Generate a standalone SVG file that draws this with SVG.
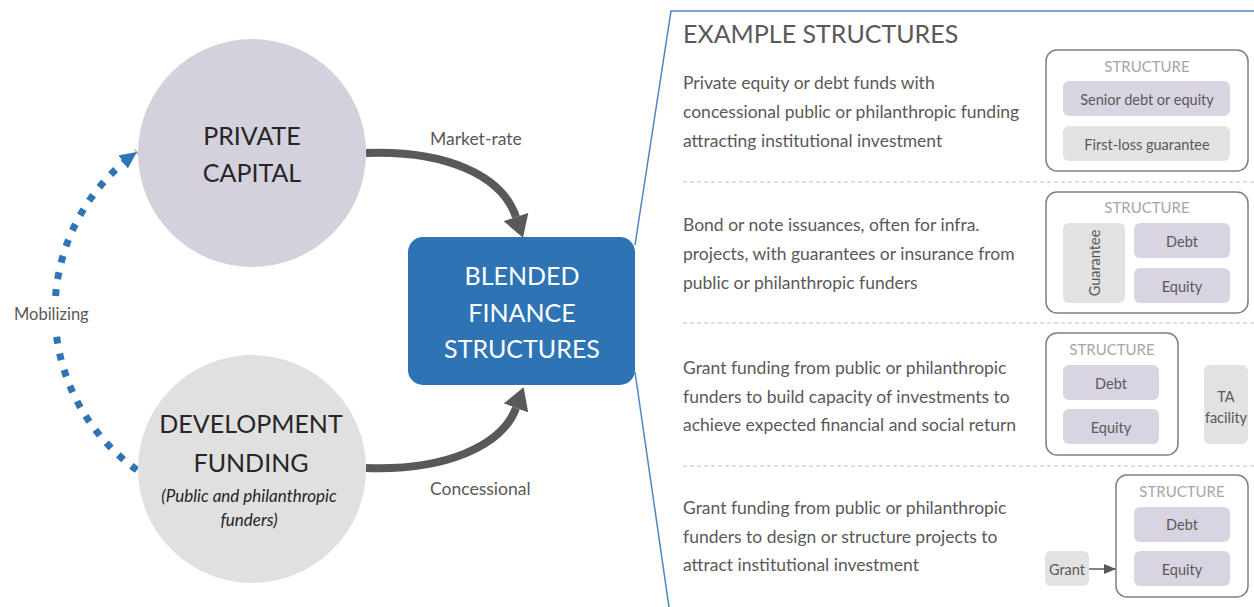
<svg xmlns="http://www.w3.org/2000/svg" width="1254" height="607" viewBox="0 0 1254 607">
<style>
text{font-family:Lato,"Liberation Sans",sans-serif}
.big{font-size:25px;fill:#262626;text-anchor:middle}
.wt{font-size:25px;fill:#ffffff;text-anchor:middle}
.lbl{font-size:17.5px;fill:#595959}
.para{font-size:17.5px;fill:#595959}
.st{font-size:15px;fill:#a6a6a6;text-anchor:middle}
.in{font-size:14.5px;fill:#595959;text-anchor:middle}
.sbox{fill:#ffffff;stroke:#7f7f7f;stroke-width:1.5}
.lav{fill:#d9d4e2}
.gry{fill:#e2e2e2}
.sep{stroke:#c0c0c0;stroke-width:1.2;stroke-dasharray:4 3;fill:none}
.flow{fill:none;stroke:#595959;stroke-width:8}
.mob{fill:none;stroke:#2e75b6;stroke-width:7;stroke-dasharray:7 10}
</style>
<defs>
<marker id="ga" markerUnits="userSpaceOnUse" viewBox="0 0 22 26" refX="0" refY="13" markerWidth="22" markerHeight="26" orient="auto">
<path d="M0,0 L22,13 L0,26 z" fill="#595959"/>
</marker>
<marker id="ba" markerUnits="userSpaceOnUse" viewBox="0 0 17 16" refX="17" refY="8" markerWidth="17" markerHeight="16" orient="auto">
<path d="M0,0 L17,8 L0,16 z" fill="#2e75b6"/>
</marker>
<marker id="sa" markerUnits="userSpaceOnUse" viewBox="0 0 12 10" refX="12" refY="5" markerWidth="12" markerHeight="10" orient="auto">
<path d="M0,0 L12,5 L0,10 z" fill="#595959"/>
</marker>
</defs>
<rect width="1254" height="607" fill="#ffffff"/>

<g id="connectors">
<path class="flow" d="M366,153 C445,150 502,175 516,217" marker-end="url(#ga)"/>
<path class="flow" d="M366,468 C445,471 502,446 516,408" marker-end="url(#ga)"/>
<path class="mob" d="M137,470 A195,195 0 0 1 55.7,328"/>
<path class="mob" d="M55.6,296 A195,195 0 0 1 137,152" marker-end="url(#ba)"/>
<line x1="1089" y1="569" x2="1116" y2="569" stroke="#595959" stroke-width="1.5" marker-end="url(#sa)"/>
<polyline points="635,245 671,11 1254,11" fill="none" stroke="#4a86c5" stroke-width="1.5"/>
<line x1="635" y1="372" x2="669" y2="607" stroke="#4a86c5" stroke-width="1.5"/>
<text class="lbl" x="430" y="145">Market-rate</text>
<text class="lbl" x="430" y="495">Concessional</text>
<text x="14" y="320" font-size="16.5" fill="#595959">Mobilizing</text>
</g>

<g id="private-capital">
<circle cx="252" cy="153" r="114" fill="#d4d0dc"/>
<text class="big" x="252" y="145">PRIVATE</text>
<text class="big" x="252" y="182">CAPITAL</text>
</g>

<g id="development-funding">
<circle cx="252" cy="469" r="114" fill="#e0e0e0"/>
<text class="big" x="251" y="433">DEVELOPMENT</text>
<text class="big" x="251" y="472">FUNDING</text>
<text x="249" y="502" font-size="17" font-style="italic" fill="#262626" text-anchor="middle">(Public and philanthropic</text>
<text x="249" y="526" font-size="17" font-style="italic" fill="#262626" text-anchor="middle">funders)</text>
</g>

<g id="blended-finance">
<rect x="408" y="237" width="227" height="148" rx="15" fill="#2e74b5"/>
<text class="wt" x="522" y="285">BLENDED</text>
<text class="wt" x="522" y="322">FINANCE</text>
<text class="wt" x="522" y="358">STRUCTURES</text>
</g>

<g id="example-structures">
<text x="683" y="43" font-size="25" fill="#595959">EXAMPLE STRUCTURES</text>
<line class="sep" x1="683" y1="182" x2="1254" y2="182"/>
<line class="sep" x1="683" y1="323" x2="1254" y2="323"/>
<line class="sep" x1="683" y1="466" x2="1254" y2="466"/>
</g>

<g id="example-1">
<text class="para" x="683" y="89">Private equity or debt funds with</text>
<text class="para" x="683" y="118">concessional public or philanthropic funding</text>
<text class="para" x="683" y="147">attracting institutional investment</text>
<rect class="sbox" x="1046" y="50" width="202" height="121" rx="11"/>
<text class="st" x="1147" y="72">STRUCTURE</text>
<rect class="lav" x="1063" y="81" width="167" height="35" rx="6"/>
<text class="in" x="1147" y="105">Senior debt or equity</text>
<rect class="gry" x="1063" y="126" width="167" height="35" rx="6"/>
<text class="in" x="1147" y="150">First-loss guarantee</text>
</g>

<g id="example-2">
<text class="para" x="683" y="231">Bond or note issuances, often for infra.</text>
<text class="para" x="683" y="260">projects, with guarantees or insurance from</text>
<text class="para" x="683" y="289">public or philanthropic funders</text>
<rect class="sbox" x="1046" y="192" width="202" height="121" rx="11"/>
<text class="st" x="1147" y="213">STRUCTURE</text>
<rect class="gry" x="1063" y="223" width="62" height="80" rx="6"/>
<text class="in" transform="translate(1100,263) rotate(-90)" x="0" y="0" font-size="15.5">Guarantee</text>
<rect class="lav" x="1134" y="223" width="96" height="35" rx="6"/>
<text class="in" x="1182" y="247">Debt</text>
<rect class="lav" x="1134" y="268" width="96" height="35" rx="6"/>
<text class="in" x="1182" y="292">Equity</text>
</g>

<g id="example-3">
<text class="para" x="683" y="374">Grant funding from public or philanthropic</text>
<text class="para" x="683" y="403">funders to build capacity of investments to</text>
<text class="para" x="683" y="431">achieve expected financial and social return</text>
<rect class="sbox" x="1046" y="333" width="132" height="122" rx="11"/>
<text class="st" x="1112" y="355">STRUCTURE</text>
<rect class="lav" x="1063" y="365" width="96" height="35" rx="6"/>
<text class="in" x="1111" y="389">Debt</text>
<rect class="lav" x="1063" y="409" width="96" height="35" rx="6"/>
<text class="in" x="1111" y="433">Equity</text>
<rect class="gry" x="1204" y="365" width="44" height="79" rx="6"/>
<text class="in" x="1226" y="402">TA</text>
<text class="in" x="1226" y="423">facility</text>
</g>

<g id="example-4">
<text class="para" x="683" y="514">Grant funding from public or philanthropic</text>
<text class="para" x="683" y="543">funders to design or structure projects to</text>
<text class="para" x="683" y="571">attract institutional investment</text>
<rect class="sbox" x="1116" y="475" width="132" height="122" rx="11"/>
<text class="st" x="1182" y="497">STRUCTURE</text>
<rect class="lav" x="1134" y="507" width="96" height="35" rx="6"/>
<text class="in" x="1182" y="530">Debt</text>
<rect class="lav" x="1134" y="551" width="96" height="35" rx="6"/>
<text class="in" x="1182" y="575">Equity</text>
<rect class="gry" x="1045" y="551" width="44" height="35" rx="6"/>
<text class="in" x="1067" y="575">Grant</text>
</g>
</svg>
